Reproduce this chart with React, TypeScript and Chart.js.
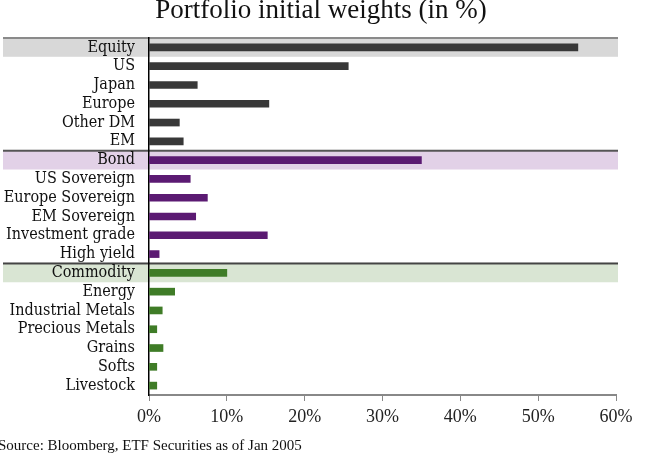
import React, { useEffect, useRef } from "react";
import { Chart, registerables } from "chart.js";

Chart.register(...registerables);

const categories = [
  "Equity", "US", "Japan", "Europe", "Other DM", "EM",
  "Bond", "US Sovereign", "Europe Sovereign", "EM Sovereign", "Investment grade", "High yield",
  "Commodity", "Energy", "Industrial Metals", "Precious Metals", "Grains", "Softs", "Livestock",
];
const weights = [
  55.1, 25.6, 6.2, 15.4, 3.9, 4.4,
  35.0, 5.3, 7.5, 6.0, 15.2, 1.3,
  10.0, 3.3, 1.7, 1.0, 1.8, 1.0, 1.0,
];
const groupOf = [
  0, 0, 0, 0, 0, 0,
  1, 1, 1, 1, 1, 1,
  2, 2, 2, 2, 2, 2, 2,
];
const headerRows = [0, 6, 12];
const barColors = ["#383838", "#5b1a72", "#3f7c27"];
const bandColors = ["#d8d8d8", "#e2d1e7", "#d9e5d3"];
const bandLineColors = ["#8a8a8a", "#555555", "#444444"];
const xTicks = [0, 10, 20, 30, 40, 50, 60];
const title = "Portfolio initial weights (in %)";
const source = "Source: Bloomberg, ETF Securities as of Jan 2005";

const FONT = "'Liberation Serif', 'DejaVu Serif', serif";
const LABEL_FONT = "'DejaVu Serif Condensed', 'Liberation Serif', serif";

const decorPlugin = {
  id: "decor",
  beforeDraw(chart: any) {
    const { ctx, chartArea, scales } = chart;
    const y = scales.y;
    const step = y.getPixelForValue(1) - y.getPixelForValue(0);
    ctx.save();
    headerRows.forEach((row, g) => {
      const c = y.getPixelForValue(row);
      const top = c - step / 2;
      ctx.fillStyle = bandColors[g];
      ctx.fillRect(3, top, chartArea.right + 2 - 3, step);
      ctx.fillStyle = bandLineColors[g];
      ctx.fillRect(3, top - 1, chartArea.right + 2 - 3, 2);
    });
    ctx.restore();
  },
  afterDraw(chart: any) {
    const { ctx } = chart;
    ctx.save();
    ctx.fillStyle = "#111";
    ctx.textBaseline = "alphabetic";
    ctx.textAlign = "center";
    ctx.font = `27px ${FONT}`;
    ctx.fillText(title, 321, 18);
    ctx.textAlign = "left";
    ctx.font = `15px ${FONT}`;
    ctx.fillText(source, -2, 450);
    ctx.restore();
  },
};

export default function App() {
  const ref = useRef<HTMLCanvasElement>(null);
  useEffect(() => {
    document.body.style.margin = "0";
    const chart = new Chart(ref.current!, {
      type: "bar",
      data: {
        labels: categories,
        datasets: [
          {
            data: weights,
            backgroundColor: weights.map((_, i) => barColors[groupOf[i]]),
            barThickness: 7,
          },
        ],
      },
      options: {
        indexAxis: "y",
        animation: false,
        responsive: false,
        devicePixelRatio: 1,
        layout: { padding: { top: 38, right: 34, left: 0, bottom: 0 } },
        plugins: { legend: { display: false }, tooltip: { enabled: false }, title: { display: false } },
        scales: {
          x: {
            min: 0,
            max: 60,
            afterBuildTicks: (scale: any) => {
              scale.ticks = xTicks.map((v) => ({ value: v }));
            },
            afterFit: (scale: any) => {
              scale.height = 65;
            },
            grid: {
              drawOnChartArea: false,
              drawTicks: true,
              tickLength: 6,
              color: "#888",
            },
            border: { color: "#888", width: 2 },
            ticks: {
              callback: (v: any) => `${v}%`,
              color: "#222",
              font: { family: FONT, size: 18 },
              padding: 5,
              maxRotation: 0,
            },
          },
          y: {
            offset: true,
            afterFit: (scale: any) => {
              scale.width = 149;
            },
            grid: { display: false, drawTicks: false },
            border: { color: "#000", width: 1.5 },
            ticks: {
              color: "#111",
              font: { family: LABEL_FONT, size: 16 },
              padding: 14,
              autoSkip: false,
            },
          },
        },
      },
      plugins: [decorPlugin],
    } as any);
    return () => chart.destroy();
  }, []);
  return (
    <div style={{ width: 650, height: 460 }}>
      <canvas ref={ref} width={650} height={460} style={{ display: "block" }} />
    </div>
  );
}
